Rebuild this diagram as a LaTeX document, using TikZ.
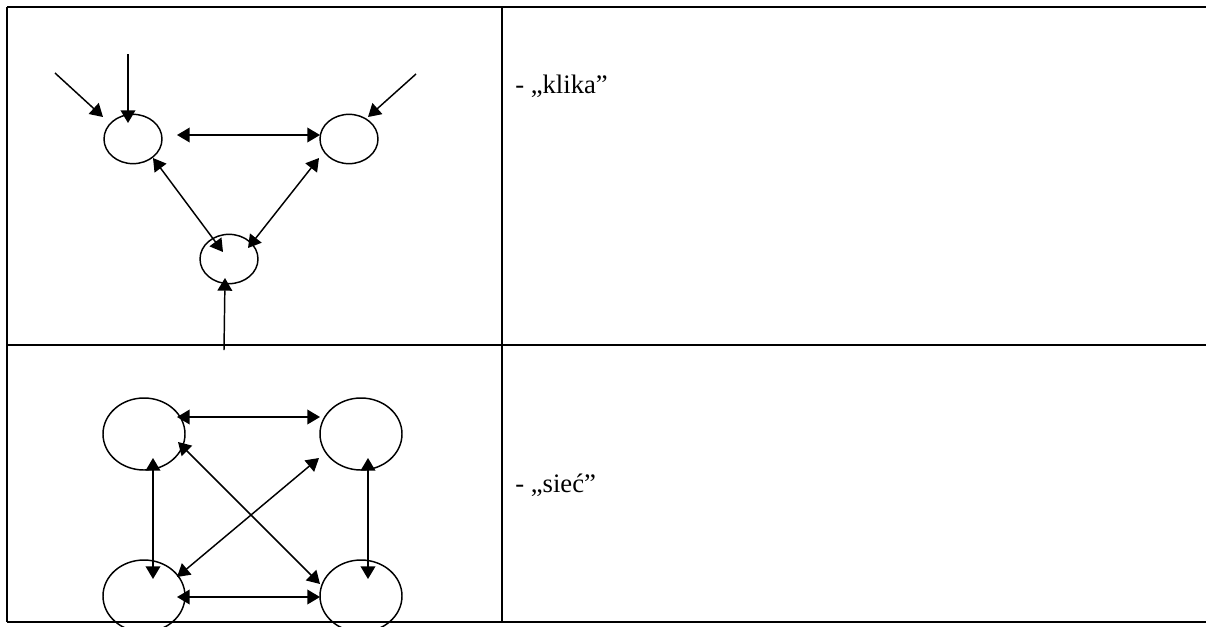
\documentclass[tikz,border=0pt]{standalone}
\usepackage{fontspec}
\setmainfont{Liberation Serif}
\usetikzlibrary{arrows.meta,shapes.geometric}
\begin{document}
\begin{tikzpicture}[x=0.75pt,y=-0.75pt,
  frame/.style={line width=1.9pt},
  small/.style={draw,ellipse,line width=1.1pt,inner sep=0pt,minimum width=43.5pt,minimum height=37pt},
  big/.style={draw,ellipse,line width=1.1pt,inner sep=0pt,minimum width=61.5pt,minimum height=54pt},
  conn/.style={line width=1.1pt,-{Triangle[length=9.5pt,width=11pt]}},
  biconn/.style={line width=1.1pt,{Triangle[length=9.5pt,width=11pt]}-{Triangle[length=9.5pt,width=11pt]}},
  lbl/.style={anchor=base west,inner sep=0pt,font=\fontsize{20}{23}\selectfont}]
\useasboundingbox (0,0) rectangle (1206,626);
\fill[white] (0,0) rectangle (1206,626);
% table
\draw[frame] (7,7) -- (1206,7);
\draw[frame] (7,345) -- (1206,345);
\draw[frame] (7,622) -- (1206,622);
\draw[frame] (7,7) -- (7,622);
\draw[frame] (502,7) -- (502,622);
% labels
\node[lbl] (t1) at (515,93) {- „klika”};
\node[lbl] (t2) at (515,492) {- „sieć”};
% row 1 nodes
\node[small] (k1) at (133,139) {};
\node[small] (k2) at (349,139) {};
\node[small] (k3) at (229,259) {};
% row 1 coordinates
\coordinate (s1) at (55,73);   \coordinate (e1) at (103,117);
\coordinate (s2) at (128,54);  \coordinate (e2) at (128,123);
\coordinate (s3) at (416,74);  \coordinate (e3) at (368,117);
\coordinate (h1) at (177,135); \coordinate (h2) at (320,135);
\coordinate (l1) at (153,158); \coordinate (l2) at (223,252);
\coordinate (r1) at (319,158); \coordinate (r2) at (248,248);
\coordinate (s4) at (224,350); \coordinate (e4) at (225,278);
\draw[conn] (s1) -- (e1);
\draw[conn] (s2) -- (e2);
\draw[conn] (s3) -- (e3);
\draw[biconn] (h1) -- (h2);
\draw[biconn] (l1) -- (l2);
\draw[biconn] (r1) -- (r2);
\draw[conn] (s4) -- (e4);
% row 2 nodes
\node[big] (n1) at (144,434) {};
\node[big] (n2) at (361,434) {};
\node[big] (n3) at (144,596) {};
\node[big] (n4) at (361,596) {};
\coordinate (p1) at (177,417); \coordinate (p2) at (320,417);
\coordinate (q1) at (178,442); \coordinate (q2) at (320,584);
\coordinate (u1) at (319,458); \coordinate (u2) at (177,577);
\coordinate (v1) at (153,458); \coordinate (v2) at (153,579);
\coordinate (w1) at (368,458); \coordinate (w2) at (368,579);
\coordinate (z1) at (177,597); \coordinate (z2) at (320,597);
\draw[biconn] (p1) -- (p2);
\draw[biconn] (q1) -- (q2);
\draw[biconn] (u1) -- (u2);
\draw[biconn] (v1) -- (v2);
\draw[biconn] (w1) -- (w2);
\draw[biconn] (z1) -- (z2);
\end{tikzpicture}
\end{document}
